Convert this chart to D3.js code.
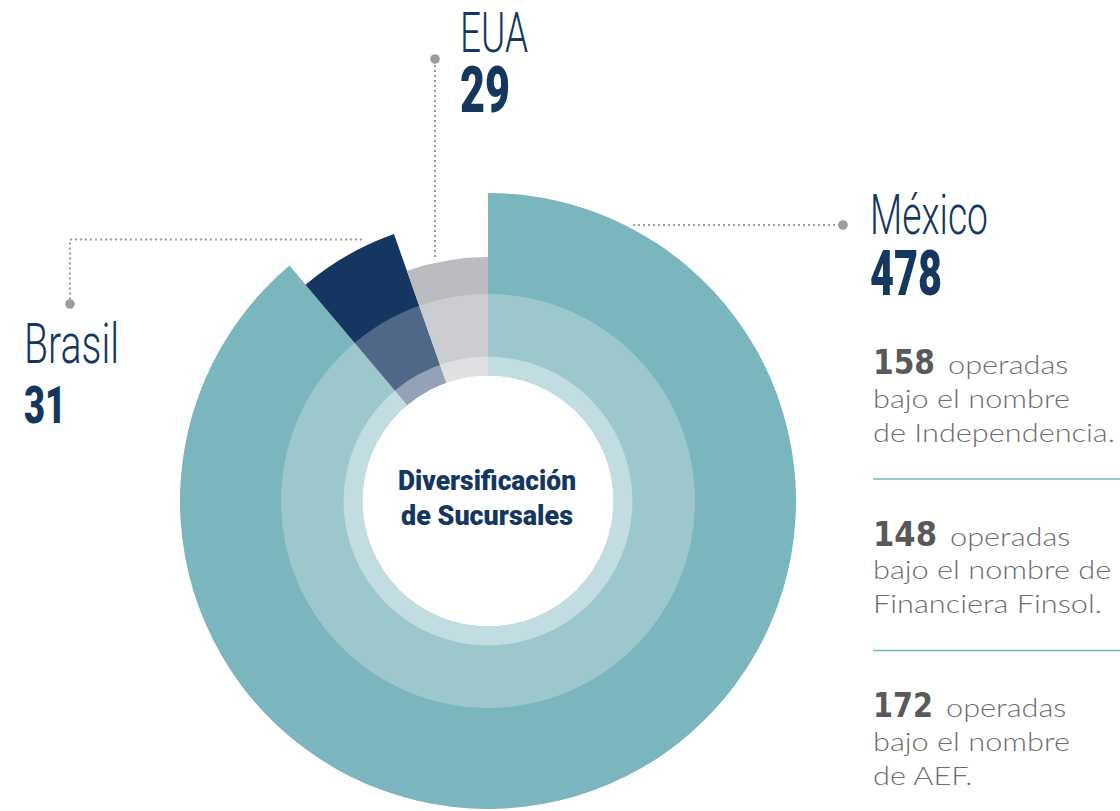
<!DOCTYPE html>
<html><head><meta charset="utf-8">
<script src="https://cdn.jsdelivr.net/npm/d3@7"></script>
<style>html,body{margin:0;padding:0;background:#fff;overflow:hidden}</style>
</head><body><svg id="c" width="1120" height="811"></svg>
<script>
// ---- data ----
const categories = ["México", "Brasil", "EUA"];
const values = [478, 31, 29];
const subNumbers = [158, 148, 172];
const subWord = "operadas";
const subLine2 = ["bajo el nombre", "bajo el nombre de", "bajo el nombre"];
const subLine3 = ["de Independencia.", "Financiera Finsol.", "de AEF."];
const centerTitle = ["Diversificación", "de Sucursales"];

// ---- styles / layout ----
const W = 1120, H = 811, cx = 488, cy = 501;
const color = d3.scaleOrdinal(categories, ["#7bb5bd", "#143660", "#bbbcc0"]);
const outerR = d3.scaleOrdinal(categories, [308, 283, 244]);
const navy = "#15375f", dotGray = "#9d9da0";
const condensed = "Roboto, 'Liberation Sans', sans-serif";
const body = "Lato, 'Open Sans', sans-serif";
const bodyBold = "'DejaVu Sans', Lato, sans-serif";

const svg = d3.select("#c");
const data = categories.map((c, i) => ({cat: c, v: values[i]}));
const pie = d3.pie().sort(null).value(d => d.v);
const arcs = pie(data);
const arc = d3.arc().innerRadius(0).outerRadius(d => outerR(d.data.cat));

const g = svg.append("g").attr("transform", `translate(${cx},${cy})`);
g.selectAll("path.slice").data(arcs).join("path").attr("class", "slice")
  .attr("d", arc).attr("fill", d => color(d.data.cat));

// overlay rings
const ring = d3.arc().startAngle(0).endAngle(2 * Math.PI);
g.append("path").attr("d", ring({innerRadius: 144.5, outerRadius: 207})).attr("fill", "#fff").attr("fill-opacity", 0.25);
g.append("path").attr("d", ring({innerRadius: 125.5, outerRadius: 144.5})).attr("fill", "#fff").attr("fill-opacity", 0.54);
g.append("circle").attr("r", 125.5).attr("fill", "#fff");

// fit helper: places text with given left/center x, baseline, target width and cap height
function fitText(parent, str, o) {
  const t = parent.append("text").text(str)
    .attr("font-family", o.family).attr("font-weight", o.weight)
    .attr("font-size", o.cap / (o.capRatio || 0.711))
    .attr("fill", o.fill).attr("text-anchor", o.anchor || "start");
  const len = t.node().getComputedTextLength();
  const sx = o.sx != null ? o.sx : o.w / len;
  t.attr("transform", `translate(${o.x},${o.y}) scale(${sx},1)`);
  return {node: t, width: len * sx, sx: sx};
}

// leader lines
const leaders = {
  "México": {path: "M633,225H843", dot: [843, 225]},
  "EUA": {path: "M435,257V59", dot: [435, 59]},
  "Brasil": {path: "M362,239.5H70V304", dot: [70, 304]}
};
const labelPos = {
  "México": {x: 870, nameY: 234, nameW: 118, valY: 295, valW: 72},
  "EUA": {x: 460, nameY: 52, nameW: 68, valY: 112, valW: 50},
  "Brasil": {x: 24, nameY: 363, nameW: 95, valY: 423, valW: 42}
};
const lab = svg.append("g");
data.forEach(d => {
  const L = leaders[d.cat], P = labelPos[d.cat];
  lab.append("path").attr("d", L.path).attr("fill", "none").attr("stroke", dotGray)
    .attr("stroke-width", 2).attr("stroke-dasharray", "2,3");
  lab.append("circle").attr("cx", L.dot[0]).attr("cy", L.dot[1]).attr("r", 4.8).attr("fill", dotGray);
  const t = lab.append("text").attr("font-family", condensed).attr("fill", navy);
  const f1 = 40 / 0.711, f2 = 41 / 0.711;
  const s1 = t.append("tspan").attr("x", 0).attr("y", 0).attr("font-weight", 300).attr("font-size", f1).text(d.cat);
  const s2 = t.append("tspan").attr("x", 0).attr("y", P.valY - P.nameY).attr("font-weight", 900).attr("font-size", f2).text(String(d.v));
  const l1 = s1.node().getComputedTextLength(), l2 = s2.node().getComputedTextLength();
  const sx = P.nameW / l1;
  s2.attr("font-size", f2 * P.valW / (l2 * sx));
  t.attr("transform", `translate(${P.x},${P.nameY}) scale(${sx},1)`);
});

// center title
fitText(svg, centerTitle[0], {x: 487, y: 490, w: 178, cap: 19.5, family: condensed, weight: 900, fill: navy, anchor: "middle"});
fitText(svg, centerTitle[1], {x: 487, y: 525, w: 172, cap: 19.5, family: condensed, weight: 900, fill: navy, anchor: "middle"});

// right side breakdown
const side = svg.append("g");
const bx = 873, baseYs = [374, 545.5, 717], lh = 33.8;
const probe = fitText(side, subLine2[0], {x: -999, y: -999, w: 197, cap: 18, family: body, weight: 300, fill: "none", capRatio: 0.72});
const bodySx = probe.sx; probe.node.remove();
const numW = {158: 62, 148: 64, 172: 60};
subNumbers.forEach((n, i) => {
  const y0 = baseYs[i];
  const num = fitText(side, String(n), {x: bx, y: y0, w: numW[n] || 61, cap: 24.5, family: bodyBold, weight: 700, fill: "#58595b", capRatio: 0.729});
  fitText(side, subWord, {x: bx + num.width + 13, y: y0, sx: bodySx, cap: 18, family: body, weight: 300, fill: "#6d6e71", capRatio: 0.72});
  fitText(side, subLine2[i], {x: bx, y: y0 + lh, sx: bodySx, cap: 18, family: body, weight: 300, fill: "#6d6e71", capRatio: 0.72});
  fitText(side, subLine3[i], {x: bx, y: y0 + 2 * lh, sx: bodySx, cap: 18, family: body, weight: 300, fill: "#6d6e71", capRatio: 0.72});
  if (i < subNumbers.length - 1) {
    side.append("line").attr("x1", bx).attr("x2", W).attr("y1", y0 + 105).attr("y2", y0 + 105)
      .attr("stroke", "#7bb5bd").attr("stroke-width", 1.5);
  }
});
</script></body></html>
